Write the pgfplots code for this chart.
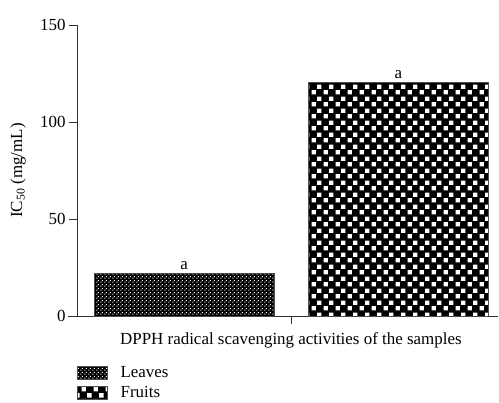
\documentclass[border=0pt]{standalone}
\usepackage{fontspec}
\setmainfont{Liberation Serif}
\usepackage{pgfplots}
\pgfplotsset{compat=1.18}
\usetikzlibrary{patterns}
\pgfdeclarepatternformonly{leafdots}{\pgfqpoint{0bp}{0bp}}{\pgfqpoint{4bp}{4bp}}{\pgfqpoint{4bp}{4bp}}{%
  \pgfpathrectangle{\pgfqpoint{0.4bp}{0.4bp}}{\pgfqpoint{1.2bp}{1.2bp}}%
  \pgfpathrectangle{\pgfqpoint{2.4bp}{2.4bp}}{\pgfqpoint{1.2bp}{1.2bp}}%
  \pgfusepath{fill}}
\pgfdeclarepatternformonly{fruitsq}{\pgfqpoint{0bp}{0bp}}{\pgfqpoint{11.5bp}{11.5bp}}{\pgfqpoint{11.5bp}{11.5bp}}{%
  \pgfpathrectangle{\pgfqpoint{0.6bp}{0.6bp}}{\pgfqpoint{4.5bp}{4.5bp}}%
  \pgfpathrectangle{\pgfqpoint{6.35bp}{6.35bp}}{\pgfqpoint{4.5bp}{4.5bp}}%
  \pgfusepath{fill}}
\pgfplotsset{boxlegend/.style={legend image code/.code={\draw[##1] (0bp,-6.5bp) rectangle (30bp,6.5bp);}}}
\begin{document}
\begin{tikzpicture}
\begin{axis}[name=ax, scale only axis, width=421bp, height=291bp,
  xmin=0.5, xmax=2.465, ymin=0, ymax=150,
  axis x line=bottom, axis y line=left,
  axis line style={-, line width=0.9bp, black!80},
  x axis line style={shorten <=-9bp},
  xtick={1.5}, xticklabels={}, ytick={0,50,100,150},
  tick align=outside, major tick length=8bp,
  tick style={line width=0.9bp, black!80},
  font=\fontsize{17}{20}\selectfont,
  /pgf/number format/assume math mode=true,
  ylabel={IC\textsubscript{50} (mg/mL)},
  ylabel style={at={(axis description cs:-0.14,0.5)}, anchor=center},
  xlabel={DPPH radical scavenging activities of the samples},
  xlabel style={at={(axis description cs:0.508,-0.0825)}, anchor=center},
  legend style={at={(axis description cs:0,0)}, anchor=north west, yshift=-48bp,
    draw=none, fill=none, inner sep=0pt, row sep=3.5bp,
    font=\fontsize{17}{20}\selectfont,
    /tikz/every odd column/.append style={column sep=11bp}},
  legend cell align=left,
  every node near coord/.append style={font=\fontsize{17}{20}\selectfont, black},
]
\addplot[ybar, bar width=0.84, bar shift=0pt, draw=black!70, fill=black,
  postaction={pattern=leafdots, pattern color=white},
  nodes near coords={a}, boxlegend]
  coordinates {(1,22)};
\addlegendentry{Leaves}
\addplot[ybar, bar width=0.84, bar shift=0pt, draw=black!70, fill=black,
  postaction={pattern=fruitsq, pattern color=white},
  nodes near coords={a}, boxlegend]
  coordinates {(2,120.5)};
\addlegendentry{Fruits}
\end{axis}
\pgfresetboundingbox
\path[use as bounding box] ([shift={(-77bp,-87bp)}]ax.south west) rectangle ([shift={(1bp,25bp)}]ax.north east);
\end{tikzpicture}
\end{document}
